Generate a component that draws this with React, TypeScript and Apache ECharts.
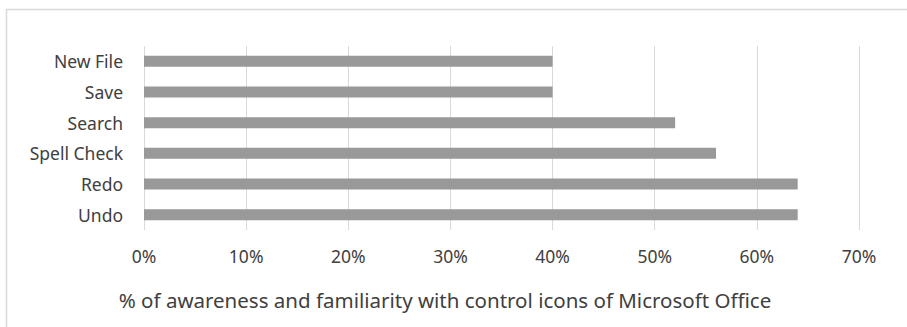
import React, { useEffect, useRef } from "react";
import * as echarts from "echarts";

const categories = ["Undo", "Redo", "Spell Check", "Search", "Save", "New File"];
const values = [64, 64, 56, 52, 40, 40];
const axisTitle = "% of awareness and familiarity with control icons of Microsoft Office";

const FONT = "'Noto Sans', 'Open Sans', sans-serif";
const TEXT = "#404040";

export default function App() {
  const ref = useRef<HTMLDivElement>(null);
  useEffect(() => {
    if (!ref.current) return;
    const chart = echarts.init(ref.current, null, { renderer: "svg" });
    chart.setOption({
      animation: false,
      backgroundColor: "#ffffff",
      grid: { left: 144, right: 48, top: 46, bottom: 97, containLabel: false },
      xAxis: {
        type: "value",
        min: 0,
        max: 70,
        interval: 10,
        axisLine: { show: false },
        axisTick: { show: false },
        splitLine: { show: true, lineStyle: { color: "#d9d9d9", width: 1 } },
        axisLabel: {
          formatter: "{value}%",
          color: TEXT,
          fontFamily: FONT,
          fontSize: 17.5,
          margin: 17,
        },
      },
      yAxis: {
        type: "category",
        data: categories,
        axisLine: { show: false },
        axisTick: { show: false },
        splitLine: { show: false },
        axisLabel: {
          color: TEXT,
          fontFamily: FONT,
          fontSize: 17.5,
          margin: 21,
        },
      },
      series: [
        {
          type: "bar",
          data: values,
          barWidth: 11,
          itemStyle: { color: "#999999" },
        },
      ],
      graphic: [
        {
          type: "rect",
          left: 4,
          top: 7,
          shape: { width: 920, height: 340 },
          style: { fill: "none", stroke: "#d9d9d9", lineWidth: 1.5 },
          silent: true,
          z: -1,
        },
        {
          type: "text",
          x: 445,
          y: 300,
          style: {
            text: axisTitle,
            fill: TEXT,
            font: `20.5px ${FONT}`,
            align: "center",
            verticalAlign: "middle",
          },
        },
      ],
    });
    return () => chart.dispose();
  }, []);
  return (
    <div
      ref={ref}
      style={{ position: "fixed", left: 0, top: 0, width: 907, height: 327 }}
    />
  );
}
